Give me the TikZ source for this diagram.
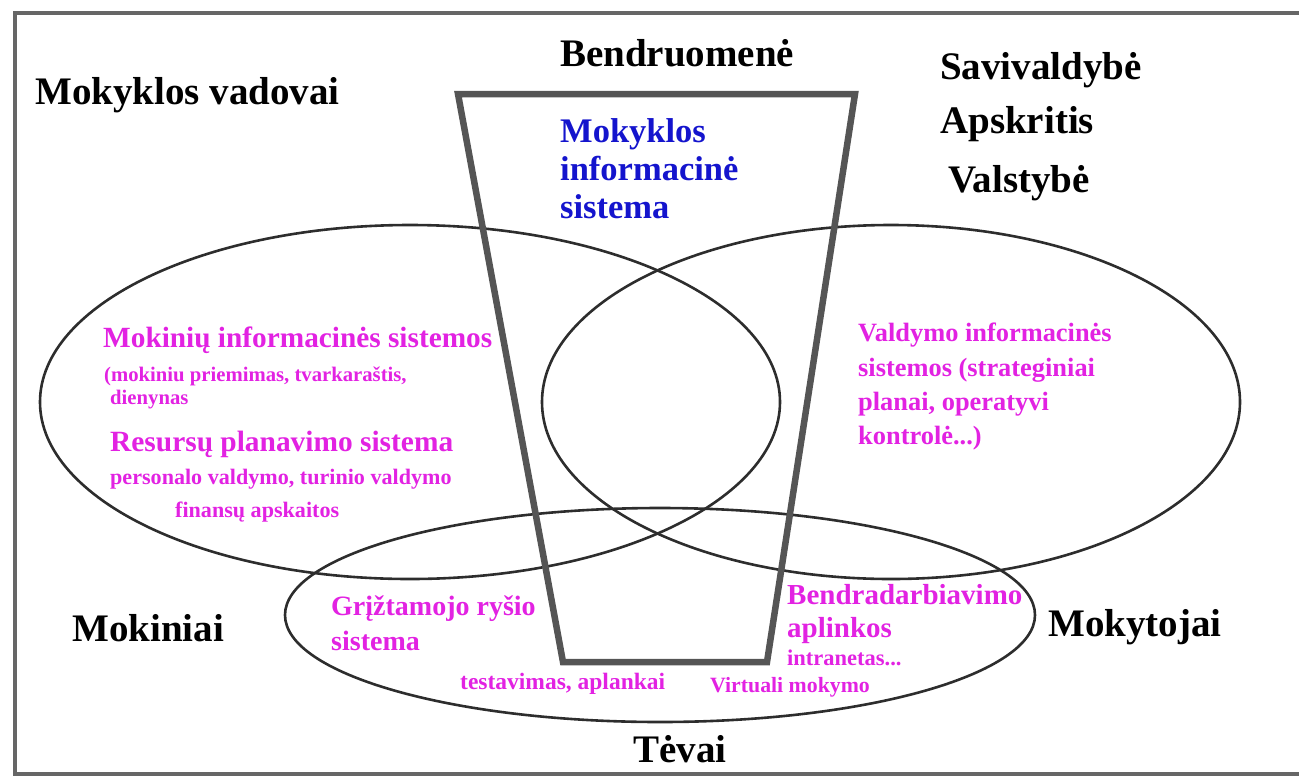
\documentclass[tikz,border=0pt]{standalone}
\usepackage{fontspec}
\setmainfont{Liberation Serif}
\definecolor{mag}{RGB}{226,34,226}
\definecolor{blu}{RGB}{20,20,205}
\definecolor{lin}{RGB}{45,45,45}
\definecolor{cup}{RGB}{85,85,85}
\tikzset{
  lbl/.style={inner sep=0pt, anchor=base west, font=\bfseries\fontsize{39}{42}\selectfont, text=black},
  mg/.style={inner sep=0pt, anchor=base west, text=mag},
  bl/.style={inner sep=0pt, anchor=base west, text=blu, font=\bfseries\fontsize{34.5}{38}\selectfont},
  ring/.style={draw=lin, line width=2.6pt},
}
\begin{document}
\begin{tikzpicture}[x=1pt,y=-1pt]
\useasboundingbox (0,0) rectangle (1299,780);
% frame
\draw[cup!90, line width=4pt] (1305,13) -- (15,13) -- (15,774) -- (1305,774);
% ellipses
\draw[ring] (410,402) ellipse [x radius=370, y radius=177];
\draw[ring] (891,402) ellipse [x radius=349, y radius=177];
\draw[ring] (660,615) ellipse [x radius=375, y radius=107];
% cup (trapezoid)
\coordinate (tl) at (458,94);
\coordinate (tr) at (855,94);
\coordinate (br) at (767,662);
\coordinate (bl) at (563,662);
\draw[cup, line width=6.5pt, line join=miter] (tl) -- (tr) -- (br) -- (bl) -- cycle;
% black labels
\node[lbl] (vad) at (35,104) {Mokyklos vadovai};
\node[lbl] (ben) at (560,66) {Bendruomenė};
\node[lbl] (sav) at (940,79) {Savivaldybė};
\node[lbl] (aps) at (940,133) {Apskritis};
\node[lbl] (val) at (948,192) {Valstybė};
\node[lbl] (mok) at (72,641) {Mokiniai};
\node[lbl] (mkt) at (1048,636) {Mokytojai};
\node[lbl, anchor=base] (tev) at (680,762) {Tėvai};
% blue
\node[bl] (mis1) at (560,142) {Mokyklos};
\node[bl] (mis2) at (560,180) {informacinė};
\node[bl] (mis3) at (560,218) {sistema};
% magenta left
\node[mg, font=\bfseries\fontsize{29.3}{30}\selectfont] (m1) at (103,347) {Mokinių informacinės sistemos};
\node[mg, font=\bfseries\fontsize{20.7}{22}\selectfont] (m2) at (104,381) {(mokiniu priemimas, tvarkaraštis,};
\node[mg, font=\bfseries\fontsize{20.7}{22}\selectfont] (m3) at (110,404) {dienynas};
\node[mg, font=\bfseries\fontsize{29.4}{30}\selectfont] (r1) at (110,451) {Resursų planavimo sistema};
\node[mg, font=\bfseries\fontsize{22.1}{24}\selectfont] (r2) at (110,484) {personalo valdymo, turinio valdymo};
\node[mg, font=\bfseries\fontsize{22.1}{24}\selectfont] (r3) at (175,517) {finansų apskaitos};
% magenta right
\node[mg, font=\bfseries\fontsize{26.4}{28}\selectfont] (v1) at (858,341) {Valdymo informacinės};
\node[mg, font=\bfseries\fontsize{26.4}{28}\selectfont] (v2) at (858,376) {sistemos (strateginiai};
\node[mg, font=\bfseries\fontsize{26.4}{28}\selectfont] (v3) at (858,410) {planai, operatyvi};
\node[mg, font=\bfseries\fontsize{26.4}{28}\selectfont] (v4) at (858,444) {kontrolė...)};
% magenta bottom
\node[mg, font=\bfseries\fontsize{28}{30}\selectfont] (g1) at (331,615) {Grįžtamojo ryšio};
\node[mg, font=\bfseries\fontsize{28}{30}\selectfont] (g2) at (331,650) {sistema};
\node[mg, font=\bfseries\fontsize{29}{30}\selectfont] (b1) at (787,604) {Bendradarbiavimo};
\node[mg, font=\bfseries\fontsize{29}{30}\selectfont] (b2) at (787,637) {aplinkos};
\node[mg, font=\bfseries\fontsize{22.5}{24}\selectfont] (b3) at (787,665) {intranetas...};
\node[mg, font=\bfseries\fontsize{23.5}{24}\selectfont] (t1) at (460,689) {testavimas, aplankai};
\node[mg, font=\bfseries\fontsize{21.8}{24}\selectfont] (t2) at (710,692) {Virtuali mokymo};
\end{tikzpicture}
\end{document}
